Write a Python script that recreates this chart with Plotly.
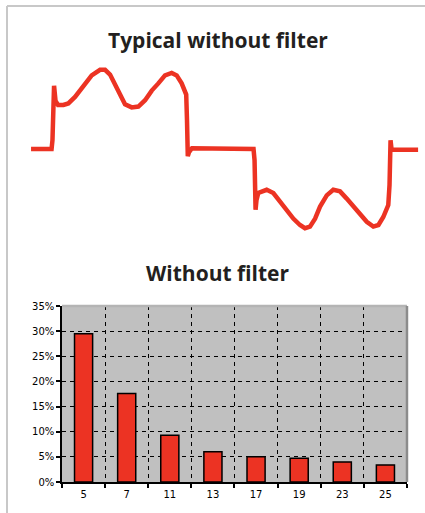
import plotly.graph_objects as go

# waveform: angle (deg) and current (per unit of peak)
angle = [11.5, 29.6, 30.4, 30.9, 31.8, 33.1, 35.3, 40.0, 44.4, 50.3,
         57.6, 65.0, 72.4, 76.8, 81.2, 85.6, 90.0, 94.4, 100.3, 106.2,
         112.1, 118.0, 123.8, 129.7, 135.6, 140.0, 144.4, 148.4, 149.1, 149.8,
         150.9, 153.5, 207.8, 208.7, 209.6, 210.4, 212.0, 215.0, 219.4, 225.3,
         231.2, 237.1, 242.9, 248.8, 253.2, 257.6, 262.1, 266.5, 272.4, 278.2,
         284.1, 290.0, 295.9, 301.8, 307.7, 313.5, 318.0, 322.3, 326.7, 327.8,
         328.7, 329.6, 332.7, 353.0]
current = [0.0, 0.0, 0.11, 0.43, 0.79, 0.60, 0.55, 0.55, 0.57, 0.65,
           0.78, 0.92, 0.99, 0.99, 0.93, 0.80, 0.68, 0.56, 0.52, 0.53,
           0.61, 0.73, 0.82, 0.92, 0.95, 0.92, 0.82, 0.68, 0.36, -0.09,
           -0.04, 0.01, 0.0, -0.14, -0.76, -0.64, -0.55, -0.53, -0.51, -0.55,
           -0.66, -0.76, -0.87, -0.95, -0.99, -0.97, -0.87, -0.72, -0.58, -0.51,
           -0.53, -0.62, -0.72, -0.83, -0.91, -0.97, -0.95, -0.85, -0.70, -0.45,
           0.11, -0.01, -0.01, -0.01]

# harmonic spectrum
harmonics = ["5", "7", "11", "13", "17", "19", "23", "25"]
share = [29.5, 17.6, 9.3, 6.0, 5.0, 4.7, 4.0, 3.4]
y_ticks = [0, 5, 10, 15, 20, 25, 30, 35]
y_labels = [f"{v}%" for v in y_ticks]

RED = "#ec3323"
TXT = "#231f20"
TICKFONT = dict(family="DejaVu Sans", size=10, color="black")
TITLEFONT = dict(family="Open Sans", size=21, color=TXT)

fig = go.Figure()

fig.add_trace(go.Scatter(
    x=angle, y=current, mode="lines",
    line=dict(color=RED, width=4.5),
    xaxis="x", yaxis="y", showlegend=False
))

fig.add_trace(go.Bar(
    x=harmonics, y=share,
    marker=dict(color=RED, line=dict(color="black", width=1.5)),
    xaxis="x2", yaxis="y2", showlegend=False
))

fig.update_layout(
    template="none",
    width=425, height=513,
    margin=dict(l=0, r=0, t=0, b=0, autoexpand=False),
    paper_bgcolor="white",
    plot_bgcolor="white",
    bargap=0.58,
    xaxis=dict(domain=[0, 1], range=[-15.9, 359.1], visible=False, automargin=False),
    yaxis=dict(domain=[0.5224, 0.8928], range=[-1.2, 1.175], visible=False, automargin=False),
    xaxis2=dict(
        domain=[0.1459, 0.9576], anchor="y2", type="category", automargin=False,
        tickson="boundaries", ticks="outside", ticklen=4,
        tickcolor="black", tickwidth=1.5, ticklabelstandoff=2,
        showline=True, linecolor="black", linewidth=1.5,
        showgrid=True, gridcolor="black", gridwidth=1.2, griddash="4px,4px",
        tickfont=TICKFONT,
    ),
    yaxis2=dict(
        domain=[0.0604, 0.4035], anchor="x2", range=[0, 35], automargin=False,
        tickvals=y_ticks, ticktext=y_labels, ticks="outside", ticklen=4,
        tickcolor="black", tickwidth=1.5,
        showline=True, linecolor="black", linewidth=1.5, zeroline=False,
        showgrid=True, gridcolor="black", gridwidth=1.2, griddash="4px,4px",
        tickfont=TICKFONT,
    ),
    annotations=[
        dict(text="<b>Typical without filter</b>", x=0.513, y=0.922,
             xref="paper", yref="paper", yanchor="middle", showarrow=False,
             font=TITLEFONT),
        dict(text="<b>Without filter</b>", x=0.512, y=0.468,
             xref="paper", yref="paper", yanchor="middle", showarrow=False,
             font=TITLEFONT),
    ],
    shapes=[
        # grey plot area of the bar chart
        dict(type="rect", xref="x2 domain", yref="y2 domain",
             x0=0, x1=1, y0=0, y1=1, fillcolor="#c0c0c0",
             line=dict(width=0), layer="below"),
        # page frame
        dict(type="line", xref="paper", yref="paper", x0=7 / 425, x1=1,
             y0=1 - 6 / 513, y1=1 - 6 / 513, line=dict(color="#c8c8c8", width=2)),
        dict(type="line", xref="paper", yref="paper", x0=7 / 425, x1=7 / 425,
             y0=0, y1=1 - 6 / 513, line=dict(color="#c8c8c8", width=2)),
        # plot area edges (cover the edge gridlines)
        dict(type="line", xref="x2 domain", yref="y2 domain", x0=0, x1=1,
             y0=1, y1=1, line=dict(color="#b4b4b4", width=2.5)),
        dict(type="line", xref="x2 domain", yref="y2 domain", x0=1, x1=1,
             y0=0, y1=1, line=dict(color="#8c8c8c", width=2.5)),
    ],
)

fig.write_html(
    "out.html",
    config={"displayModeBar": False},
    post_script="document.body.style.margin='0';document.body.style.overflow='hidden';"
)
